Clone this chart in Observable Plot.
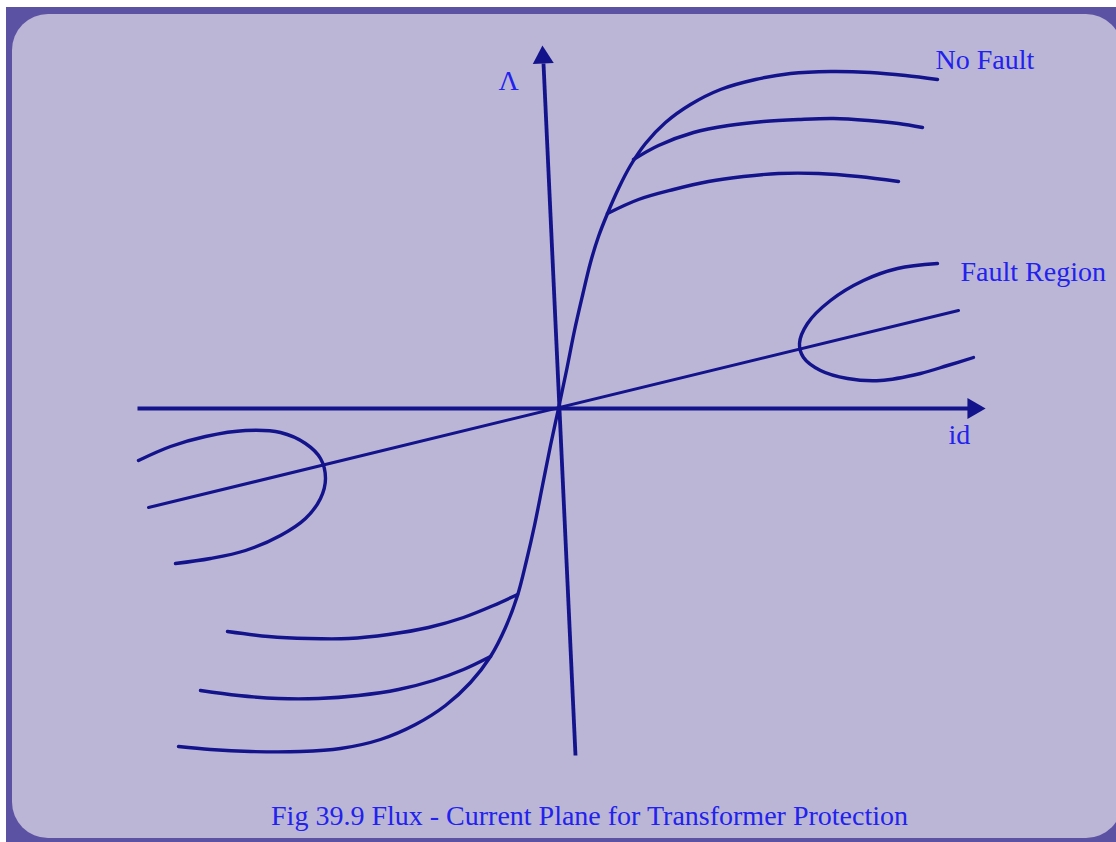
<!DOCTYPE html>
<html>
<head>
<meta charset="utf-8">
<script src="https://cdn.jsdelivr.net/npm/d3@7"></script>
<script src="https://cdn.jsdelivr.net/npm/@observablehq/plot@0.6"></script>
<style>
  html, body { margin: 0; padding: 0; background: #ffffff; }
  #page { position: relative; width: 1116px; height: 842px; overflow: hidden; background: #ffffff; }
  #border { position: absolute; left: 6px; top: 7px; right: 0; bottom: 0; background: #5c52a3; }
  #panel { position: absolute; left: 12px; top: 14px; width: 1110px; height: 824px; border-radius: 36px; background: #bbb6d6; }
  #chart { position: absolute; left: 0; top: 0; }
</style>
</head>
<body>
<div id="page">
  <div id="border"></div>
  <div id="panel"></div>
  <div id="chart"></div>
</div>
<script>
// Flux (y) versus differential current id (x), arbitrary units with origin at the axes crossing.
const mainCurve = [
  [-380,-338],[-348,-341],[-308,-343],[-258,-343],[-218,-340],[-178,-331],[-143,-316],
  [-113,-297],[-88,-274],[-68,-248],[-53,-219],[-41,-187],[-32,-152],[-24,-117],[-16,-77],[-8,-37],
  [0,0],[8,38],[16,78],[24,113],[32,146],[40,172],[49,195],[60,220],[72,243],[87,265],
  [107,286],[132,304],[162,319],[197,329],[232,335],[272,337],[312,336],[347,333],[379,329]
];
const branchTop2 = [
  [75,249],[100,263],[135,276],[170,283],[205,287],[240,289],[275,290],[310,288],[340,285],[364,281]
];
const branchTop3 = [
  [49,195],[80,209],[115,219],[150,227],[185,232],[220,235],[260,235],[300,232],[340,227]
];
const branchBottom1 = [
  [-331,-223],[-290,-228],[-250,-230],[-210,-230],[-170,-226],[-130,-219],[-95,-209],[-65,-197],[-41,-186]
];
const branchBottom2 = [
  [-358,-282],[-320,-287],[-280,-290],[-240,-290],[-200,-287],[-160,-281],[-125,-272],[-95,-261],[-68,-248]
];
const faultRight = [
  [379,145],[339,140],[305,128],[272,108],[249,85],[241,65],[245,51],[262,38],[289,30],[322,28],[362,35],[389,43],[415,51]
];
const faultLeft = [
  [-420,-52],[-388,-38],[-353,-28],[-313,-22],[-278,-24],[-253,-35],[-238,-50],[-233,-70],[-238,-90],[-253,-110],[-278,-127],[-313,-142],[-348,-150],[-383,-155]
];
const diagonalLine = [[-410,-99],[400,98]];
const idAxis = [[-421,0],[410,0]];
const fluxAxis = [[17,-347],[-15,345]];
const arrowHeads = [
  {x: 415, y: 0, rot: 90},
  {x: -15.5, y: 351, rot: -2.66}
];
const plotLabels = [
  {x: -60, y: 319, text: "Λ"},
  {x: 377, y: 340, text: "No Fault"},
  {x: 402, y: 128, text: "Fault Region"},
  {x: 390, y: -35, text: "id"}
];
const captionLabel = [
  {x: 31, y: -416, text: "Fig 39.9 Flux - Current Plane for Transformer Protection"}
];

const toRows = (name, pts) => pts.map(([x, y]) => ({series: name, x, y}));
const curves = [
  ...toRows("main", mainCurve),
  ...toRows("top2", branchTop2),
  ...toRows("top3", branchTop3),
  ...toRows("bottom1", branchBottom1),
  ...toRows("bottom2", branchBottom2),
  ...toRows("faultRight", faultRight),
  ...toRows("faultLeft", faultLeft)
];
const straight = toRows("diag", diagonalLine);
const axes = [
  ...toRows("idAxis", idAxis),
  ...toRows("fluxAxis", fluxAxis)
];

const ink = "#13138c";
const textBlue = "#2222ee";
const serif = "Liberation Serif, Times New Roman, serif";

const chart = Plot.plot({
  width: 1116,
  height: 842,
  margin: 0,
  x: {domain: [-558, 558], axis: null},
  y: {domain: [-434, 408], axis: null},
  style: {background: "transparent", overflow: "visible"},
  marks: [
    Plot.line(axes, {x: "x", y: "y", z: "series", stroke: ink, strokeWidth: 3.8, strokeLinecap: "butt"}),
    Plot.line(straight, {x: "x", y: "y", z: "series", stroke: ink, strokeWidth: 3}),
    Plot.line(curves, {x: "x", y: "y", z: "series", curve: "catmull-rom", stroke: ink, strokeWidth: 3.4}),
    Plot.dot(arrowHeads, {x: "x", y: "y", symbol: "triangle", r: 7.8, fill: ink, stroke: "none", rotate: "rot"}),
    Plot.text(plotLabels, {x: "x", y: "y", text: "text", textAnchor: "start", lineAnchor: "bottom",
      fill: textBlue, fontSize: 28, fontFamily: serif}),
    Plot.text(captionLabel, {x: "x", y: "y", text: "text", textAnchor: "middle", lineAnchor: "bottom",
      fill: textBlue, fontSize: 28, fontFamily: serif})
  ]
});
document.getElementById("chart").appendChild(chart);
</script>
</body>
</html>
